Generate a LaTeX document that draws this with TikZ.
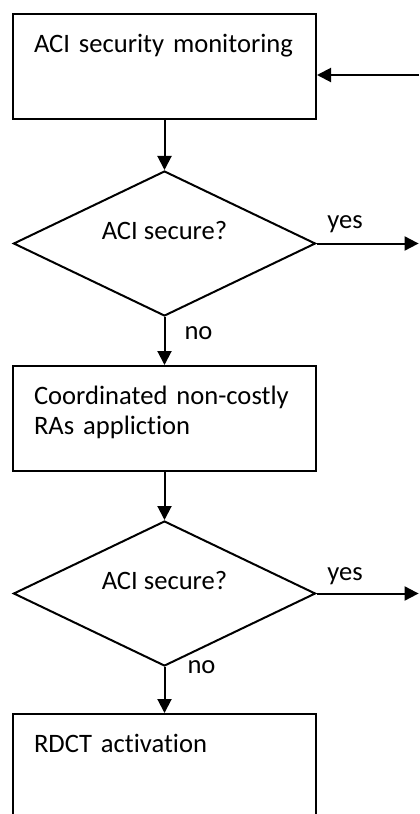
\documentclass[tikz,border=0pt]{standalone}
\usepackage{fontspec}
\setmainfont{Carlito}[Ligatures=NoCommon]
\usetikzlibrary{arrows.meta,positioning,shapes.geometric}

\begin{document}
\begin{tikzpicture}[
  node distance=24pt,
  every node/.style={font=\fontsize{13.3pt}{15pt}\selectfont},
  box/.style={draw, line width=1pt, text width=130.5pt, align=left, inner xsep=10.5pt, inner ysep=0pt, text height=19pt, text depth=33.5pt},
  test/.style={draw, diamond, aspect=2.08, line width=1pt, minimum width=151pt, minimum height=72.5pt, inner sep=0pt, text height=8pt, text depth=12pt},
  arr/.style={-{Triangle[length=7pt, width=7pt]}, line width=1pt},
  lbl/.style={inner sep=0pt}
]
\useasboundingbox (0,0) rectangle (209.5pt,-407pt);
\clip (0,0) rectangle (209.5pt,-407pt);
\node[box, anchor=north west] (mon) at (6pt,-6.5pt) {ACI security monitoring};
\node[test, below=25pt of mon] (sec1) {ACI secure?};
\node[box, below=24pt of sec1] (ra) {Coordinated non-costly\\RAs appliction};
\node[test, below=24pt of ra] (sec2) {ACI secure?};
\node[box, below=23pt of sec2] (rdct) {RDCT activation};
\coordinate (back) at (209.5pt,-37.5pt);
\coordinate (edge) at (209.3pt,0);
\draw[arr] (back) -- (back -| mon.east);
\draw[arr] (mon) -- (sec1);
\draw[arr] (sec1.east) -- node[lbl, above=5pt, pos=0.28] {yes} (sec1.east -| edge);
\draw[arr] (sec1) -- node[lbl, right=9.5pt, pos=0.34] {no} (ra);
\draw[arr] (ra) -- (sec2);
\draw[arr] (sec2.east) -- node[lbl, above=4pt, pos=0.28] {yes} (sec2.east -| edge);
\draw[arr] (sec2) -- node[lbl, right=11pt, pos=0] {no} (rdct);
\end{tikzpicture}
\end{document}
